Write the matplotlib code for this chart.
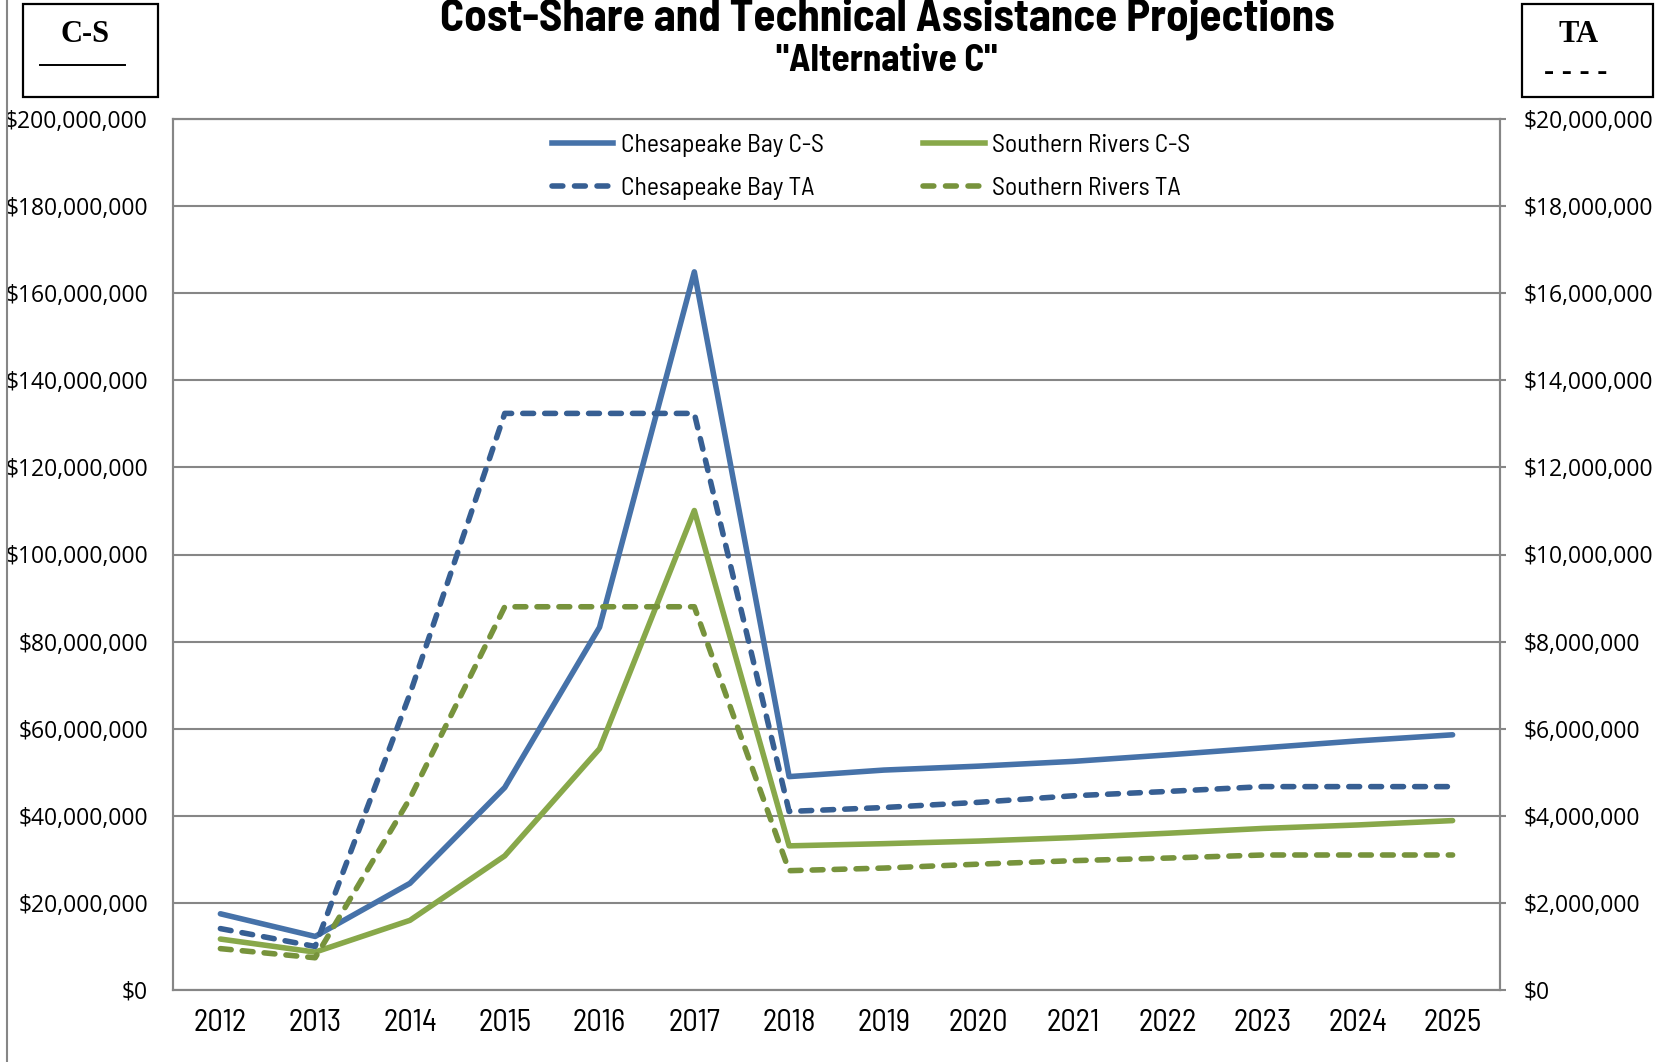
import numpy as np
import matplotlib
matplotlib.use("Agg")
import matplotlib.pyplot as plt
from matplotlib.ticker import FuncFormatter, MultipleLocator
from matplotlib.lines import Line2D

######################## data ########################
years = ['2012', '2013', '2014', '2015', '2016', '2017', '2018',
         '2019', '2020', '2021', '2022', '2023', '2024', '2025']
# cost-share, left axis ($)
cb_cs = [17.5e6, 12.3e6, 24.5e6, 46.5e6, 83.3e6, 164.9e6, 49.0e6,
         50.5e6, 51.4e6, 52.5e6, 54.0e6, 55.6e6, 57.2e6, 58.6e6]
sr_cs = [11.7e6, 8.7e6, 16.0e6, 30.8e6, 55.4e6, 110.1e6, 33.1e6,
         33.6e6, 34.2e6, 35.0e6, 36.0e6, 37.1e6, 37.9e6, 38.9e6]
# technical assistance, right axis ($)
cb_ta = [1.41e6, 1.00e6, 6.8e6, 13.24e6, 13.24e6, 13.24e6, 4.10e6,
         4.19e6, 4.31e6, 4.46e6, 4.56e6, 4.67e6, 4.67e6, 4.67e6]
sr_ta = [0.95e6, 0.74e6, 4.4e6, 8.8e6, 8.8e6, 8.8e6, 2.74e6,
         2.80e6, 2.89e6, 2.97e6, 3.03e6, 3.10e6, 3.10e6, 3.10e6]

labels = ['Chesapeake Bay C-S', 'Chesapeake Bay TA',
          'Southern Rivers C-S', 'Southern Rivers TA']

############################## style ######################################
blue = '#4672A9'
blue_d = '#375F93'
green = '#88A84A'
green_d = '#77933C'
grey = '#868686'
narrow = ['Barlow Semi Condensed', 'Barlow Condensed', 'Roboto', 'DejaVu Sans']
lw = 4.0
dash = (0, (1.95, 2.0))

fig = plt.figure(figsize=(16.56, 10.62), dpi=100)
ax = fig.add_axes([173/1656, 1-990/1062, (1500-173)/1656, (990-119)/1062])
ax2 = ax.twinx()

x = np.arange(len(years))
ax.plot(x, cb_cs, color=blue, lw=lw, solid_capstyle='round', solid_joinstyle='round', zorder=3)
ax.plot(x, sr_cs, color=green, lw=lw, solid_capstyle='round', solid_joinstyle='round', zorder=3)
ax2.plot(x, cb_ta, color=blue_d, lw=lw, ls=dash, dash_capstyle='round', dash_joinstyle='round')
ax2.plot(x, sr_ta, color=green_d, lw=lw, ls=dash, dash_capstyle='round', dash_joinstyle='round')

ax.set_xlim(-0.5, len(years)-0.5)
ax.set_ylim(0, 200e6)
ax2.set_ylim(0, 20e6)
ax.yaxis.set_major_locator(MultipleLocator(20e6))
ax2.yaxis.set_major_locator(MultipleLocator(2e6))
fmt = FuncFormatter(lambda v, p: '${:,.0f}'.format(v))
ax.yaxis.set_major_formatter(fmt)
ax2.yaxis.set_major_formatter(fmt)

ax.set_xticks(x)
ax.set_xticklabels(years, family=narrow, fontsize=22)
ax.tick_params(axis='x', length=0, pad=14)
ax.tick_params(axis='y', length=0, pad=18)
ax2.tick_params(axis='y', length=4, width=1.5, color=grey, pad=13)
for lab in ax.get_yticklabels() + ax2.get_yticklabels():
    lab.set_family('Open Sans')
    lab.set_fontsize(16.5)

ax.grid(axis='y', color=grey, lw=1.5)
ax.set_axisbelow(True)
for a in (ax, ax2):
    for s in a.spines.values():
        s.set_color(grey)
        s.set_linewidth(1.5)

# legend (two columns, no frame)
handles = [Line2D([], [], color=blue, lw=lw),
           Line2D([], [], color=blue_d, lw=lw, ls=(0, (1.95, 2.1)), dash_capstyle='round'),
           Line2D([], [], color=green, lw=lw),
           Line2D([], [], color=green_d, lw=lw, ls=(0, (1.95, 2.1)), dash_capstyle='round')]
ax2.legend(handles, labels, ncol=2, loc='upper center', bbox_to_anchor=(0.526, 1.009),
           frameon=False, prop={'family': narrow, 'size': 18.5},
           handlelength=2.4, handletextpad=0.3, columnspacing=3.85, labelspacing=0.76)

# titles
fig.text(887/1656, 1-30/1062, 'Cost-Share and Technical Assistance Projections',
         ha='center', va='baseline', family=narrow, fontsize=32.4, fontweight='bold')
fig.text(887/1656, 1-71/1062, '"Alternative C"',
         ha='center', va='baseline', family=narrow, fontsize=26.8, fontweight='bold')

# C-S / TA key boxes
fig.patches.append(plt.Rectangle((23/1656, 1-97/1062), 135/1656, 93/1062, fill=False,
                                 ec='black', lw=1.6, transform=fig.transFigure))
fig.text(85/1656, 1-35/1062, 'C-S', ha='center', va='center', family='Liberation Serif',
         fontweight='bold', fontsize=22)
fig.lines.append(Line2D([40/1656, 125/1656], [1-65/1062, 1-65/1062], color='black', lw=1.4,
                        transform=fig.transFigure))
fig.patches.append(plt.Rectangle((1522/1656, 1-97/1062), 131/1656, 93/1062, fill=False,
                                 ec='black', lw=1.6, transform=fig.transFigure))
fig.text(1579/1656, 1-35/1062, 'TA', ha='center', va='center', family='Liberation Serif',
         fontweight='bold', fontsize=22)
fig.text(1576/1656, 1-72/1062, '- - - -', ha='center', va='center', family='Liberation Serif',
         fontweight='bold', fontsize=22)

# grey border at the left edge
fig.lines.append(Line2D([7/1656, 7/1656], [0, 1], color=grey, lw=1.5, transform=fig.transFigure))

fig.savefig('out.png', dpi=100)
